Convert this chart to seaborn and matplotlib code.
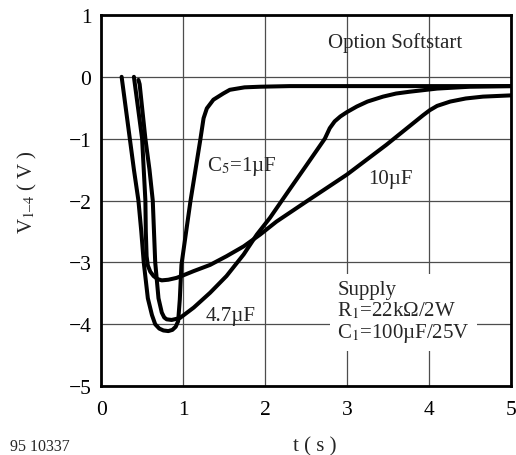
import matplotlib
matplotlib.use("Agg")
import matplotlib.pyplot as plt
import pandas as pd
import seaborn as sns

# C5 = 1 uF
t_1uf = [0.25, 0.30, 0.35, 0.40, 0.455, 0.49, 0.52, 0.57, 0.62, 0.66, 0.71, 0.76, 0.82,
         0.87, 0.91, 0.94, 0.96, 0.98, 1.09, 1.21, 1.25, 1.29, 1.37, 1.49, 1.57, 1.75,
         1.94, 2.30, 5.00]
v_1uf = [0.0, -0.5, -1.0, -1.5, -2.0, -2.5, -3.0, -3.58, -3.85, -4.0, -4.07, -4.1, -4.11,
         -4.09, -4.04, -3.95, -3.6, -3.04, -2.01, -1.02, -0.67, -0.51, -0.37, -0.27, -0.21,
         -0.17, -0.16, -0.15, -0.15]

# C5 = 4.7 uF
t_47uf = [0.455, 0.47, 0.50, 0.54, 0.59, 0.63, 0.645, 0.66, 0.70, 0.74, 0.77, 0.80, 0.86,
          0.96, 1.13, 1.33, 1.53, 1.74, 1.90, 2.06, 2.30, 2.50, 2.73, 2.79, 2.85, 2.92,
          3.00, 3.12, 3.25, 3.44, 3.60, 3.77, 4.10, 4.50, 5.00]
v_47uf = [-0.05, -0.12, -0.5, -1.0, -1.5, -2.0, -2.5, -3.0, -3.58, -3.81, -3.89, -3.92, -3.93,
          -3.9, -3.73, -3.49, -3.22, -2.87, -2.55, -2.28, -1.82, -1.44, -1.0, -0.83, -0.72,
          -0.64, -0.57, -0.48, -0.4, -0.32, -0.27, -0.24, -0.19, -0.16, -0.15]

# C5 = 10 uF
t_10uf = [0.40, 0.45, 0.50, 0.52, 0.54, 0.545, 0.555, 0.57, 0.60, 0.64, 0.69, 0.74, 0.82,
          0.92, 1.00, 1.13, 1.33, 1.53, 1.74, 1.94, 2.14, 2.50, 3.00, 3.48, 3.93, 4.01,
          4.10, 4.26, 4.45, 4.66, 5.00]
v_10uf = [0.0, -0.5, -1.0, -1.5, -2.0, -2.5, -2.9, -3.05, -3.15, -3.22, -3.27, -3.29, -3.28,
          -3.25, -3.21, -3.14, -3.04, -2.9, -2.74, -2.55, -2.34, -2.02, -1.58, -1.1, -0.62,
          -0.54, -0.47, -0.4, -0.35, -0.32, -0.3]

x_ticks = [0, 1, 2, 3, 4, 5]
y_ticks = [-5, -4, -3, -2, -1, 0, 1]

sns.set_style("white")
plt.rcParams["font.family"] = ["Liberation Serif", "DejaVu Serif"]
plt.rcParams["mathtext.fontset"] = "stix"

fig = plt.figure(figsize=(5.16, 4.56), dpi=100)
ax = fig.add_axes([0.196, 0.151, 0.794, 0.814])

for t, v in [(t_1uf, v_1uf), (t_47uf, v_47uf), (t_10uf, v_10uf)]:
    df = pd.DataFrame({"t": t, "v": v})
    sns.lineplot(data=df, x="t", y="v", ax=ax, color="black", lw=2.9,
                 sort=False, estimator=None, zorder=3,
                 solid_joinstyle="round", solid_capstyle="round")

ax.set_xlim(0, 5)
ax.set_ylim(-5, 1)
ax.set_xticks(x_ticks)
ax.set_yticks(y_ticks)
ax.grid(True, color="0.3", lw=0.9, zorder=0)
ax.set_axisbelow(True)
for s in ax.spines.values():
    s.set_visible(True)
    s.set_color("black")
    s.set_linewidth(2.0)
ax.tick_params(axis="both", length=0, labelsize=15.5, colors="black")
ax.tick_params(axis="x", pad=10)
ax.tick_params(axis="y", pad=7)
ax.set_xlabel("")
ax.set_ylabel("")

ax.text(2.77, 0.57, "Option Softstart", fontsize=15, va="center", ha="left", zorder=4)
ax.text(1.29, -1.44, "C$_5$=1µF", fontsize=15, va="center", ha="left", zorder=4)
ax.text(3.26, -1.64, "10µF", fontsize=15, va="center", ha="left", zorder=4)
ax.text(1.27, -3.85, "4.7µF", fontsize=15, va="center", ha="left", zorder=4)
ax.text(2.88, -3.8, "Supply\nR$_1$=22kΩ/2W\nC$_1$=100µF/25V", fontsize=15,
        va="center", ha="left", linespacing=1.05, zorder=4,
        bbox=dict(boxstyle="square,pad=0.35", fc="white", ec="none"))

fig.text(27 / 516, 1 - 192 / 456, "V$_{\\mathrm{1–4}}$ ( V )", rotation=90,
         fontsize=15, ha="center", va="center")
fig.text(315 / 516, 1 - 447 / 456, "t ( s )", fontsize=15, ha="center", va="center")
fig.text(10 / 516, 1 - 447 / 456, "95 10337", fontsize=11.5, ha="left", va="center")

fig.savefig("out.png", dpi=100)
